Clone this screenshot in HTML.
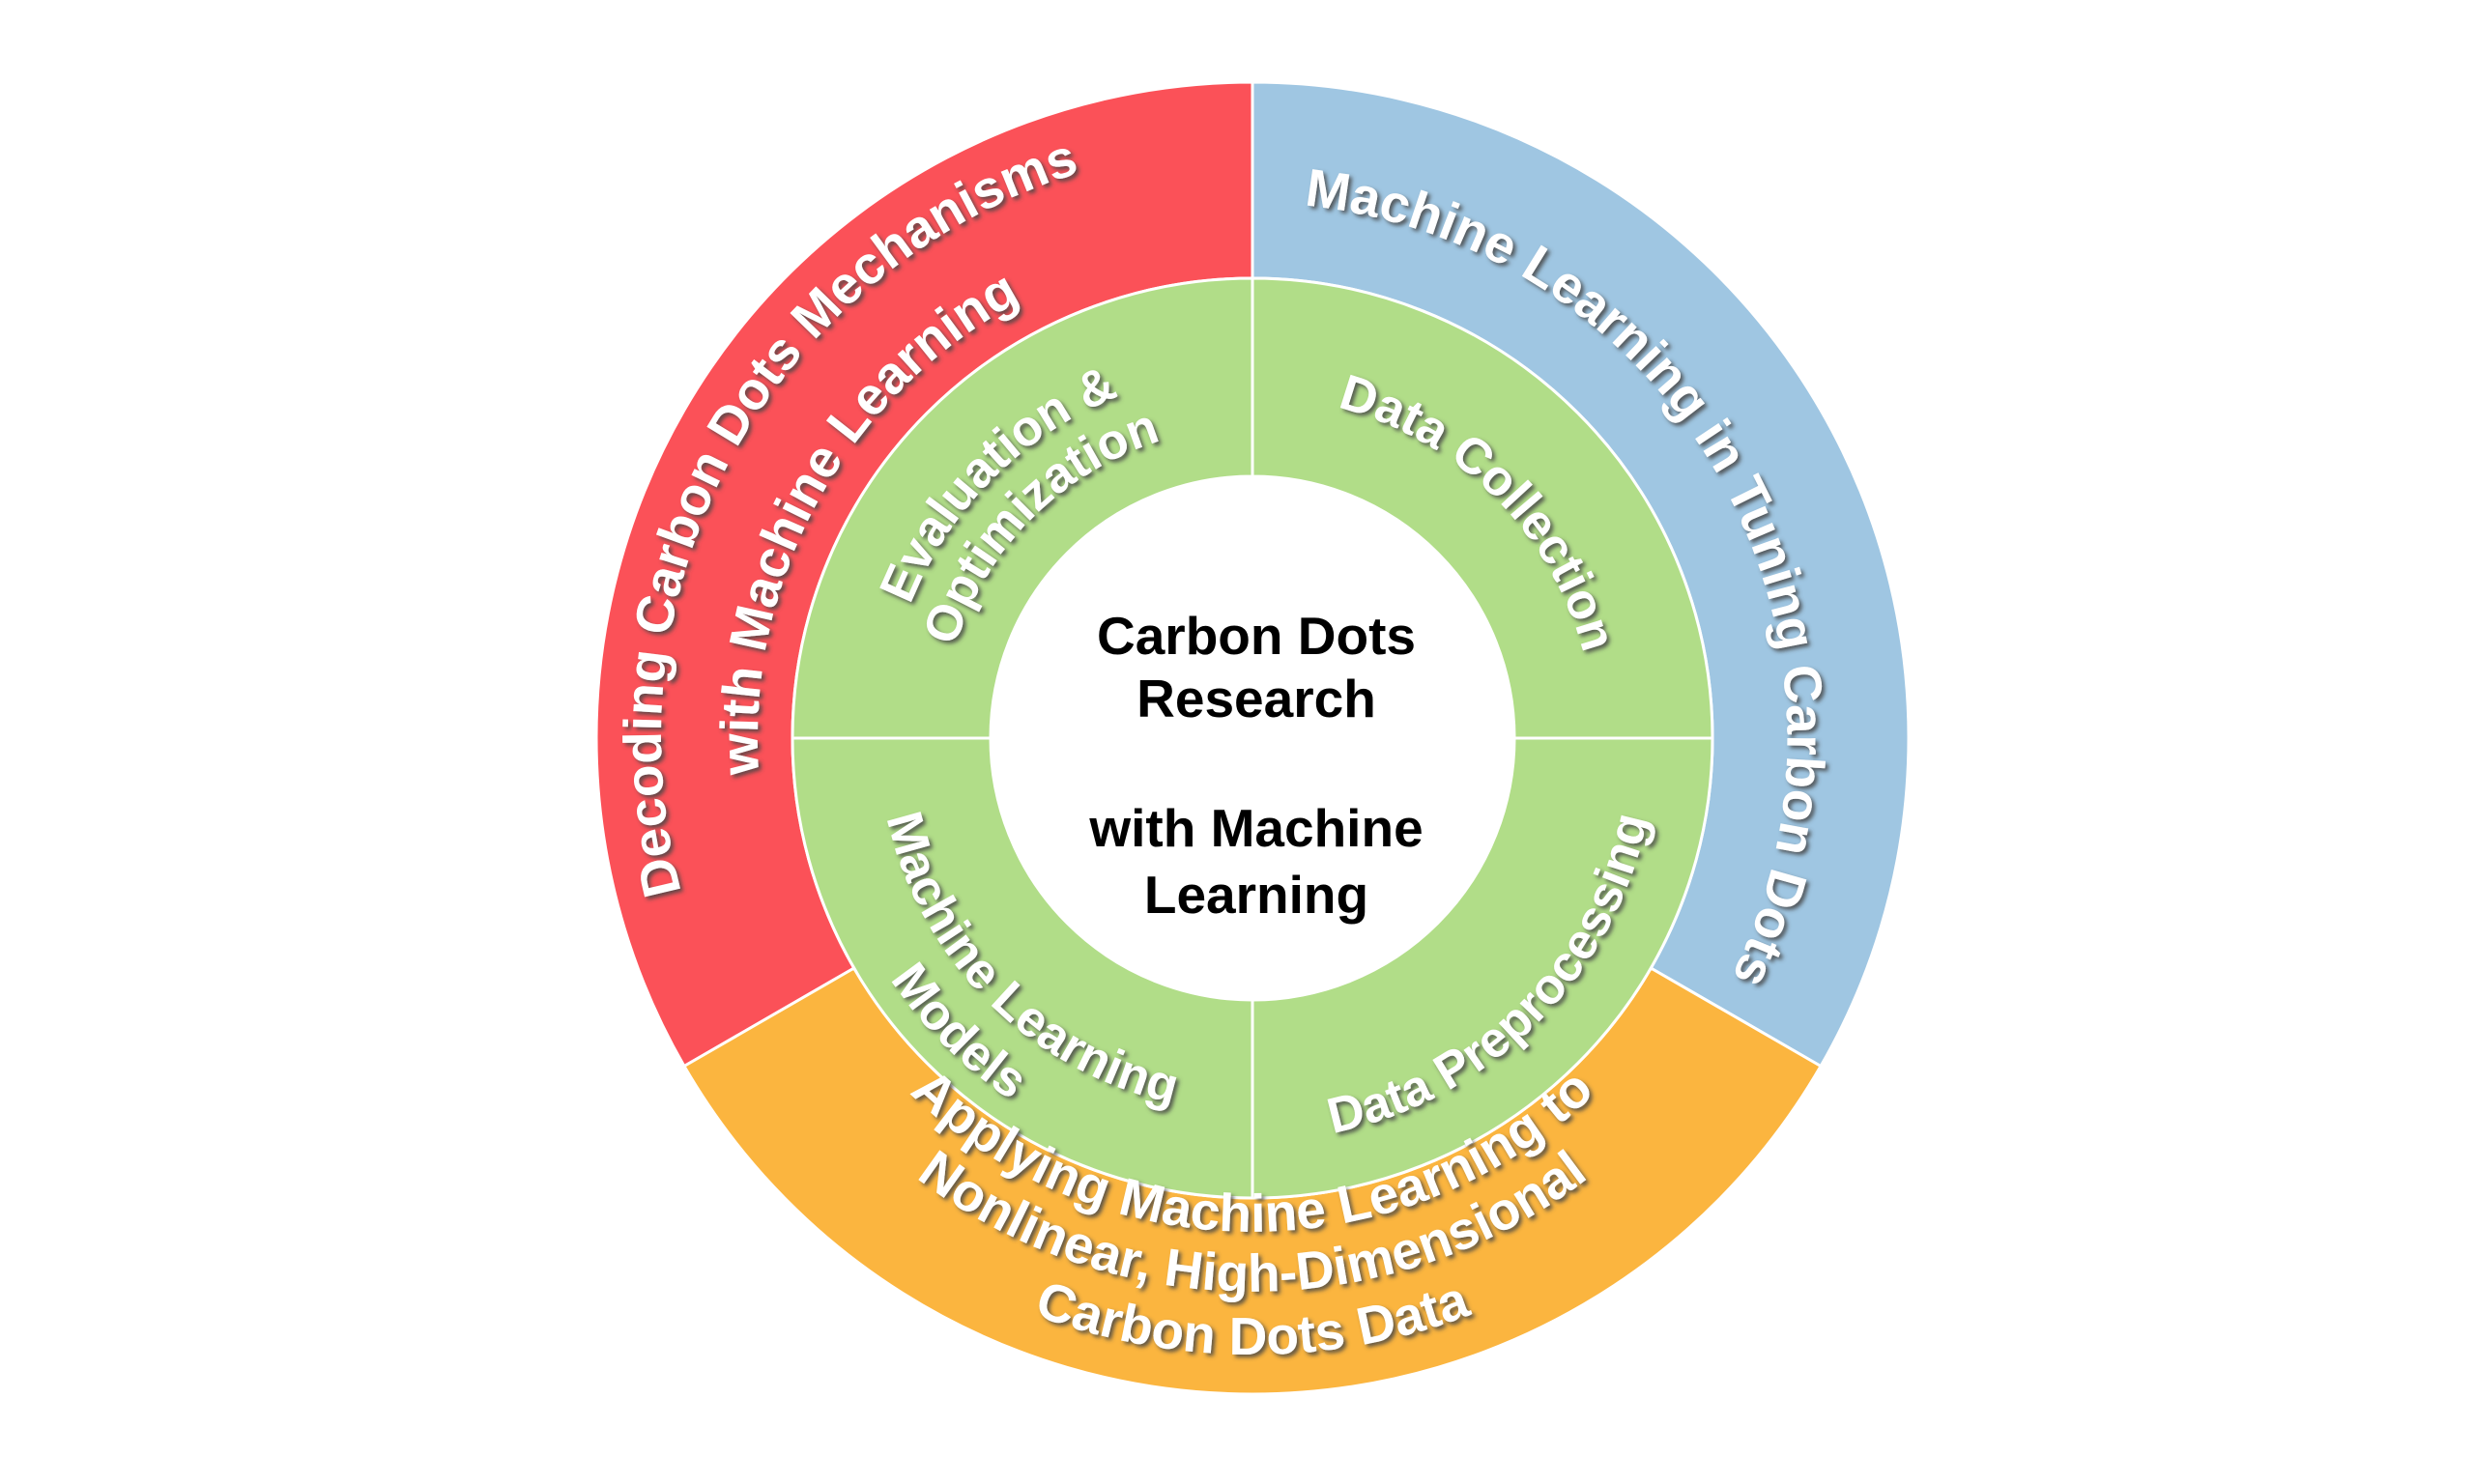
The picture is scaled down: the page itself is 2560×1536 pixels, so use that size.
<!DOCTYPE html>
<html><head><meta charset="utf-8">
<style>
html,body{margin:0;padding:0;background:#fff;width:2560px;height:1536px;overflow:hidden}
svg{display:block}
.o{font-family:"Liberation Sans",Arial,sans-serif;font-size:55px;fill:#fff;font-weight:bold}
.g{font-family:"Liberation Sans",Arial,sans-serif;font-size:52px;fill:#fff;font-weight:bold}
.c{font-family:"Liberation Sans",Arial,sans-serif;font-size:55px;fill:#000;font-weight:bold;text-anchor:middle}
</style></head><body>
<svg id="s" width="2560" height="1536" viewBox="0 0 2560 1536" xmlns="http://www.w3.org/2000/svg">
<defs>
<filter id="sh" x="-10%" y="-10%" width="120%" height="120%">
<feDropShadow dx="3" dy="3" stdDeviation="2" flood-color="#444" flood-opacity="0.85"/>
</filter>
</defs>
<g id="shapes"></g>
<g id="paths"></g>
<g id="texts" filter="url(#sh)"></g>
<text class="c" x="1300" y="677">Carbon Dots</text>
<text class="c" x="1300" y="742">Research</text>
<text class="c" x="1300" y="876">with Machine</text>
<text class="c" x="1300" y="945">Learning</text>
</svg>
<script>
var cx=1296,cy=764,R=679,G=476,W=271;
function p(r,a){var t=a*Math.PI/180;return (cx+r*Math.cos(t)).toFixed(2)+" "+(cy+r*Math.sin(t)).toFixed(2);}
function sector(r1,r2,a1,a2,fill){
 var large=(a2-a1)>180?1:0;
 return '<path d="M'+p(r2,a1)+' A'+r2+' '+r2+' 0 '+large+' 1 '+p(r2,a2)+' L'+p(r1,a2)+' A'+r1+' '+r1+' 0 '+large+' 0 '+p(r1,a1)+' Z" fill="'+fill+'" stroke="#fff" stroke-width="3"/>';
}
var s='';
s+=sector(G,R,150,270,'#fb5158');
s+=sector(G,R,-90,30,'#9fc6e2');
s+=sector(G,R,30,150,'#fbb53f');
s+=sector(W,G,-90,0,'#b1dd88');
s+=sector(W,G,0,90,'#b1dd88');
s+=sector(W,G,90,180,'#b1dd88');
s+=sector(W,G,180,270,'#b1dd88');
s+='<circle cx="'+cx+'" cy="'+cy+'" r="'+W+'" fill="#fff"/>';
document.getElementById('shapes').innerHTML=s;
var ps='',ts='',n=0;
function arcText(r,c,ccw,txt,cls){
 var id='a'+(n++),d;
 if(!ccw) d='M'+p(r,c-90)+' A'+r+' '+r+' 0 0 1 '+p(r,c+90);
 else d='M'+p(r,c+90)+' A'+r+' '+r+' 0 0 0 '+p(r,c-90);
 ps+='<path id="'+id+'" d="'+d+'" fill="none"/>';
 ts+='<text class="'+cls+'"><textPath href="#'+id+'" startOffset="50%" text-anchor="middle">'+txt+'</textPath></text>';
}
arcText(555,-29,false,'Machine Learning in Tuning Carbon Dots','o');
arcText(612,209,false,'Decoding Carbon Dots Mechanisms','o');
arcText(512,209,false,'with Machine Learning','o');
arcText(511,90,true,'Applying Machine Learning to','o');
arcText(573,90,true,'Nonlinear, High-Dimensional','o');
arcText(638,90,true,'Carbon Dots Data','o');
arcText(355,-45,false,'Data Collection','g');
arcText(382,225,false,'Evaluation &amp;','g');
arcText(322,225,false,'Optimization','g');
arcText(418,45,true,'Data Preprocessing','g');
arcText(389,135,true,'Machine Learning','g');
arcText(452,135,true,'Models','g');
document.getElementById('paths').innerHTML=ps;
document.getElementById('texts').innerHTML=ts;
</script>
</body></html>
